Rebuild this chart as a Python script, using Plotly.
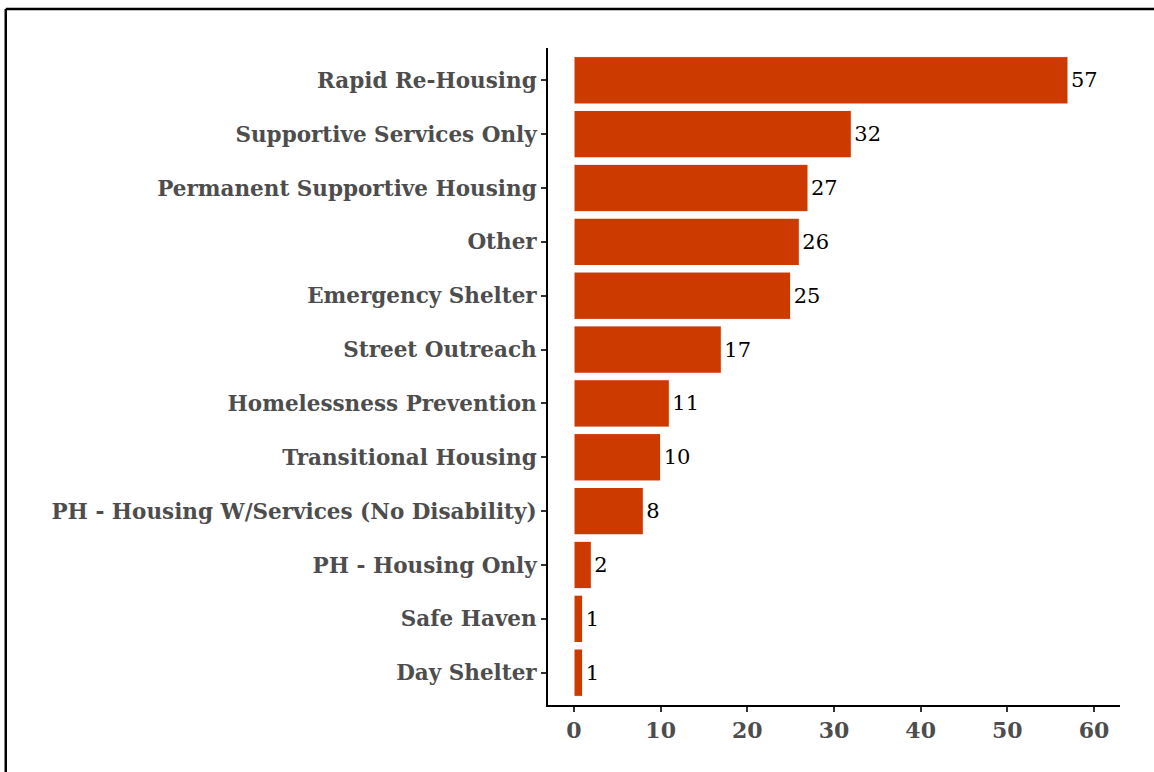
import plotly.graph_objects as go

# project types and counts, top to bottom as drawn
categories = [
    "Rapid Re-Housing",
    "Supportive Services Only",
    "Permanent Supportive Housing",
    "Other",
    "Emergency Shelter",
    "Street Outreach",
    "Homelessness Prevention",
    "Transitional Housing",
    "PH - Housing W/Services (No Disability)",
    "PH - Housing Only",
    "Safe Haven",
    "Day Shelter",
]
counts = [57, 32, 27, 26, 25, 17, 11, 10, 8, 2, 1, 1]
x_ticks = [0, 10, 20, 30, 40, 50, 60]

SERIF = "DejaVu Serif"
BAR_COLOR = "#CC3A00"

fig = go.Figure()
fig.add_trace(go.Bar(
    x=counts,
    y=categories,
    orientation="h",
    marker=dict(color=BAR_COLOR, line=dict(color="white", width=1)),
    text=[str(c) for c in counts],
    textposition="outside",
    textfont=dict(family=SERIF, size=21, color="black"),
    cliponaxis=False,
    showlegend=False,
))

fig.update_layout(
    width=1154,
    height=772,
    margin=dict(l=548, r=34, t=48, b=67),
    paper_bgcolor="white",
    plot_bgcolor="white",
    bargap=0.12,
    font=dict(family=SERIF),
    # frame around the figure: only the top and left edges show
    shapes=[
        dict(type="line", xref="paper", yref="paper",
             x0=-0.948, x1=1.1, y0=1.0594, y1=1.0594,
             line=dict(color="black", width=2.5), layer="above"),
        dict(type="line", xref="paper", yref="paper",
             x0=-0.948, x1=-0.948, y0=-0.2, y1=1.0594,
             line=dict(color="black", width=2.5), layer="above"),
    ],
)

fig.update_xaxes(
    range=[-3, 63],
    tickvals=x_ticks,
    showgrid=False,
    zeroline=False,
    showline=True, linecolor="black", linewidth=2,
    ticks="outside", ticklen=5, tickwidth=2, tickcolor="#333333",
    tickfont=dict(family=SERIF, size=22, color="#4D4D4D", weight="bold"),
)
fig.update_yaxes(
    categoryorder="array",
    categoryarray=categories[::-1],
    range=[-0.6, len(categories) - 0.4],
    showgrid=False,
    zeroline=False,
    showline=True, linecolor="black", linewidth=2,
    ticks="outside", ticklen=5, tickwidth=2, tickcolor="#333333",
    tickfont=dict(family=SERIF, size=21.5, color="#4D4D4D", weight="bold"),
)

fig.write_html(
    "out.html",
    config={"displayModeBar": False},
    post_script="document.body.style.margin='0';",
)
